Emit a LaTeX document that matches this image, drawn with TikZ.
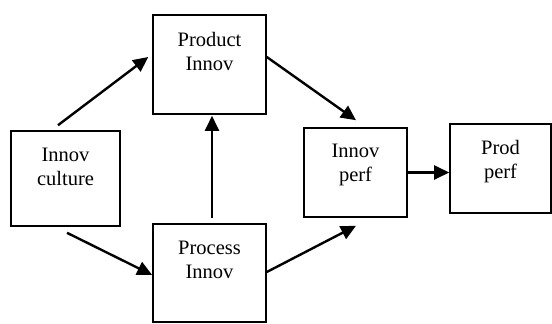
\documentclass[tikz,border=0pt]{standalone}
\usepackage{fontspec}
\setmainfont{Liberation Serif}
\usetikzlibrary{arrows.meta,calc}
\begin{document}
\begin{tikzpicture}[x=1pt,y=-1pt,
  box/.style={draw,line width=1.6pt,rectangle,inner sep=0pt},
  lbl/.style={anchor=north,align=center,inner sep=0pt,font=\fontsize{20.5}{24}\selectfont},
  arr/.style={line width=2.4pt,-{Triangle[length=15pt,width=14pt]}}]
\useasboundingbox (0,0) rectangle (552,324);
% boxes
\node[box,minimum width=113pt,minimum height=99pt] (pi) at (209.5,64.5) {};
\node[box,minimum width=109pt,minimum height=95pt] (ic) at (65.5,178.5) {};
\node[box,minimum width=113pt,minimum height=98pt] (pr) at (209.5,273) {};
\node[box,minimum width=103pt,minimum height=89pt] (ip) at (355.5,172.5) {};
\node[box,minimum width=101pt,minimum height=89pt] (pp) at (500.5,168.5) {};
% labels
\node[lbl] (tpi) at ($(pi.north)+(0,17.5)$) {Product\\Innov};
\node[lbl] (tic) at ($(ic.north)+(0,17.5)$) {Innov\\culture};
\node[lbl] (tpr) at ($(pr.north)+(0,17.5)$) {Process\\Innov};
\node[lbl] (tip) at ($(ip.north)+(0,16.5)$) {Innov\\perf};
\node[lbl] (tpp) at ($(pp.north)+(0,16.5)$) {Prod\\perf};
% arrows
\draw[arr] ($(ic.north)+(-7.5,-5)$) -- ($(pi.west)+(-4,-7.5)$);
\draw[arr] ($(pi.east)+(0,-7.5)$) -- ($(ip.north)+(0.5,-7)$);
\draw[arr] ($(pr.north)+(2.5,-5)$) -- ($(pi.south)+(2.5,1)$);
\draw[arr] ($(ic.south)+(1.5,6)$) -- ($(pr.west)+(0,2)$);
\draw[arr] ($(pr.east)+(0,-1)$) -- ($(ip.south)+(0.5,8)$);
\draw[arr] (ip.east) -- (ip.east -| pp.west);
\end{tikzpicture}
\end{document}
